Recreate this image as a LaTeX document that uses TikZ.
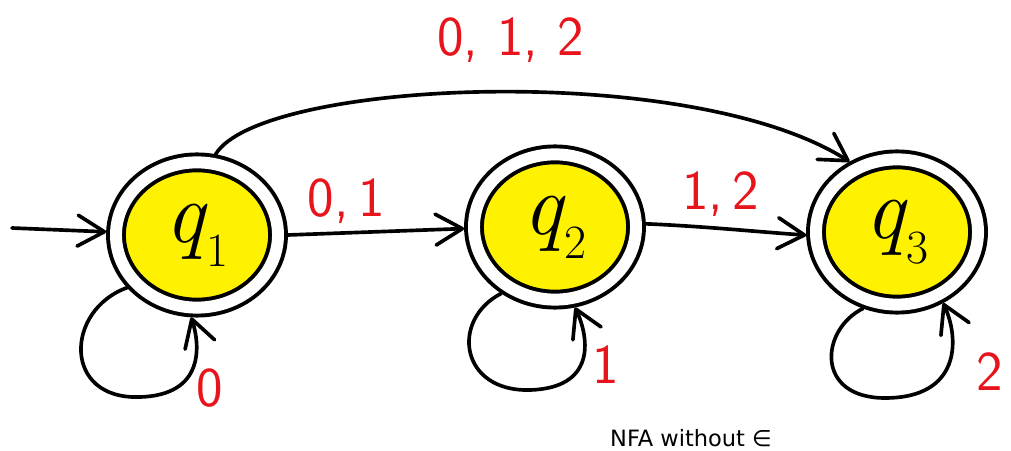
\documentclass[tikz,border=0pt]{standalone}
\usepackage{fontspec}
\newfontfamily\capfont{DejaVu Sans}
\usetikzlibrary{shapes.geometric,arrows.meta}
\definecolor{lblred}{RGB}{232,20,28}
\newcommand{\qname}[1]{\textit{q}\kern-1pt\raisebox{-0.28em}{\fontsize{34}{34}\selectfont #1}}
\begin{document}
\begin{tikzpicture}[x=0.025cm,y=-0.025cm,
  state/.style={ellipse,draw,fill=yellow,line width=2.8pt,double,double distance=8.5pt,
    minimum width=4.05cm,minimum height=3.63cm,inner sep=0pt,outer sep=7pt,
    font=\fontsize{62}{62}\selectfont},
  edge/.style={line width=2.6pt,line cap=round,
    -{Straight Barb[length=19pt,width=22pt,line width=2.6pt,round]}},
  lbl/.style={text=lblred,font=\fontsize{40}{40}\selectfont\sffamily}]
\useasboundingbox (0,0) rectangle (1011,451);
\node[state] (q1) at (197,235) {\qname{1}};
\node[state] (q2) at (555,227) {\qname{2}};
\node[state] (q3) at (897,232) {\qname{3}};
\coordinate (start) at (12,228);
% start arrow
\draw[edge] (start) -- (q1.178);
% straight transitions
\draw[edge] (q1.east) -- node[lbl,above=2pt,pos=0.33] (l01) {0,\,1} (q2.181);
\draw[edge] (q2.2) .. controls (700,226) and (760,232) .. node[lbl,above=4pt,pos=0.45] (l12) {1,\,2} (q3.182);
% long arc
\draw[edge] (q1.77) .. controls (260,80) and (690,60) .. node[lbl,above=16pt,pos=0.5,xshift=15pt] (l012) {0,\,\,1,\,\,2} (q3.124);
% self loops
\draw[edge] (q1.217) .. controls (65,310) and (62,400) .. (140,397)
  .. controls (205,395) and (200,345) .. (q1.266);
\node[lbl] (l0) at (210,388) {0};
\draw[edge] (q2.231) .. controls (450,320) and (460,392) .. (530,390)
  .. controls (595,388) and (590,340) .. (q2.284);
\node[lbl] (l1) at (606,365) {1};
\draw[edge] (q3.246) .. controls (820,330) and (815,398) .. (885,398)
  .. controls (960,398) and (960,340) .. (q3.303);
\node[lbl] (l2) at (990,372) {2};
% caption
\node[font=\capfont\fontsize{16}{16}\selectfont] (cap) at (691,438) {NFA without ∈};
\end{tikzpicture}
\end{document}
